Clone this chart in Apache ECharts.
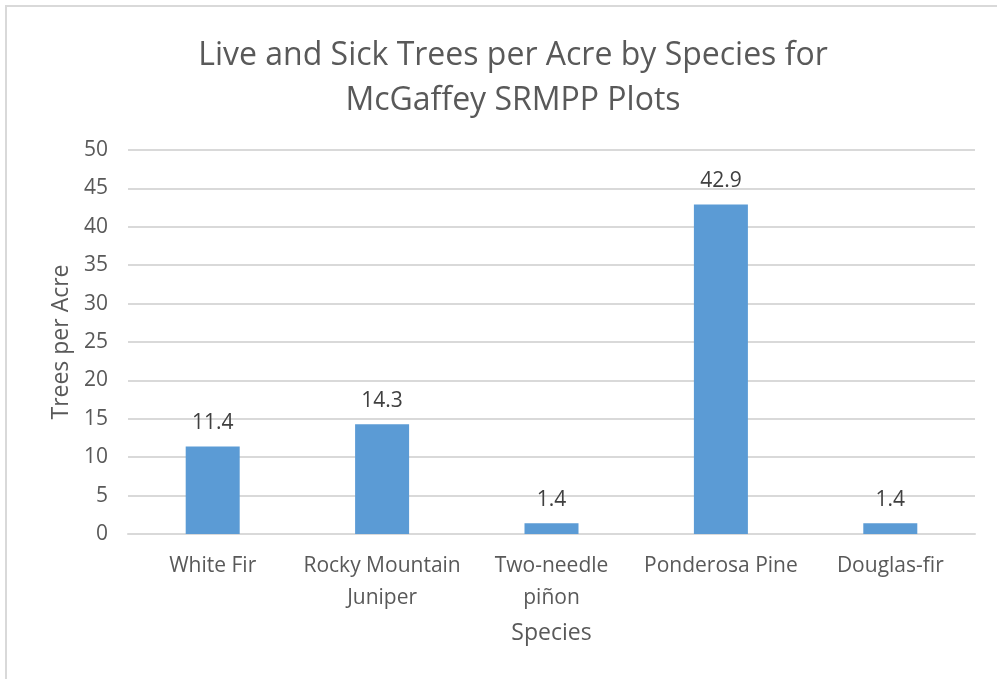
<!DOCTYPE html>
<html>
<head>
<meta charset="utf-8">
<script src="https://cdn.jsdelivr.net/npm/echarts@6/dist/echarts.min.js"></script>
<style>
html, body { margin: 0; padding: 0; background: #fff; }
#chart { width: 997px; height: 679px; }
</style>
</head>
<body>
<div id="chart"></div>
<script>
// data
var species = ['White Fir', 'Rocky Mountain\nJuniper', 'Two-needle\npiñon', 'Ponderosa Pine', 'Douglas-fir'];
var treesPerAcre = [11.4, 14.3, 1.4, 42.9, 1.4];

var chart = echarts.init(document.getElementById('chart'));
var font = '"Open Sans", "Noto Sans", sans-serif';

option = {
    backgroundColor: '#fff',
    textStyle: { fontFamily: font },
    title: {
        text: 'Live and Sick Trees per Acre by Species for\nMcGaffey SRMPP Plots',
        left: 508,
        textAlign: 'center',
        top: 28,
        textStyle: {
            fontFamily: font,
            fontSize: 32,
            fontWeight: 'normal',
            color: '#595959',
            lineHeight: 45
        }
    },
    graphic: [{
        type: 'rect',
        shape: { x: 6, y: 6, width: 1000, height: 700 },
        style: { fill: 'none', stroke: '#d9d9d9', lineWidth: 2 },
        silent: true
    }],
    grid: {
        left: 128,
        right: 22,
        top: 150,
        bottom: 145
    },
    xAxis: {
        type: 'category',
        data: species,
        name: 'Species',
        nameLocation: 'middle',
        nameGap: 88,
        nameTextStyle: { fontSize: 23, color: '#595959', fontFamily: font },
        axisLine: { lineStyle: { color: '#d9d9d9', width: 2 } },
        axisTick: { show: false },
        axisLabel: {
            fontSize: 21,
            color: '#595959',
            margin: 16,
            lineHeight: 32,
            interval: 0
        }
    },
    yAxis: {
        type: 'value',
        min: 0,
        max: 50,
        interval: 5,
        name: 'Trees per Acre',
        nameLocation: 'middle',
        nameGap: 54,
        nameTextStyle: { fontSize: 23, color: '#595959', fontFamily: font },
        axisLine: { show: false },
        axisTick: { show: false },
        axisLabel: { fontSize: 21, color: '#595959', margin: 20 },
        splitLine: { lineStyle: { color: '#d9d9d9', width: 2 } }
    },
    series: [{
        name: 'Trees per Acre',
        type: 'bar',
        data: treesPerAcre,
        barWidth: 54,
        itemStyle: { color: '#5b9bd5' },
        label: {
            show: true,
            position: 'top',
            distance: 13,
            fontSize: 21,
            color: '#404040',
            formatter: function (p) { return p.value.toFixed(1); }
        }
    }]
};
chart.setOption(option);
</script>
</body>
</html>
